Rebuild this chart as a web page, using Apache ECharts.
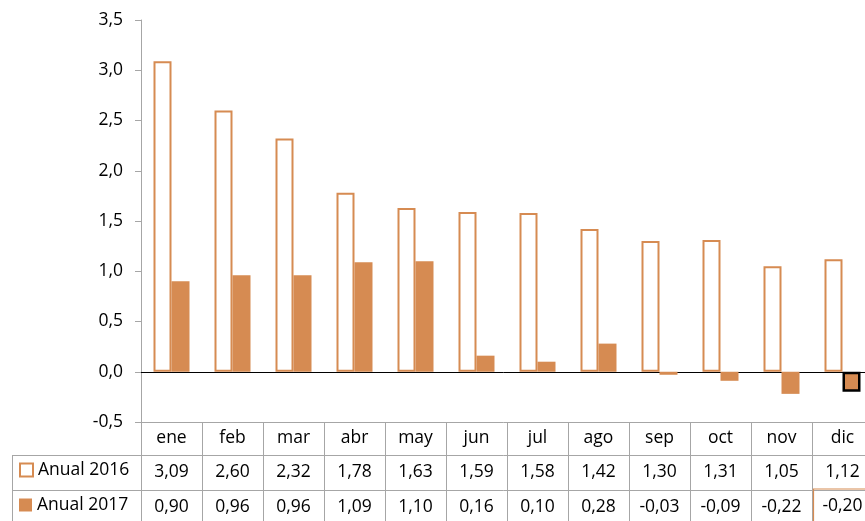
<!DOCTYPE html>
<html>
<head>
<meta charset="utf-8">
<script src="https://cdn.jsdelivr.net/npm/echarts@6/dist/echarts.min.js"></script>
<style>
html,body{margin:0;padding:0;background:#fff;}
#chart{width:865px;height:521px;}
</style>
</head>
<body>
<div id="chart"></div>
<script>
var categories = ['ene','feb','mar','abr','may','jun','jul','ago','sep','oct','nov','dic'];
var anual2016 = [3.09,2.60,2.32,1.78,1.63,1.59,1.58,1.42,1.30,1.31,1.05,1.12];
var anual2017 = [0.90,0.96,0.96,1.09,1.10,0.16,0.10,0.28,-0.03,-0.09,-0.22,-0.20];
var seriesNames = ['Anual 2016','Anual 2017'];
var yTicks = {min:-0.5, max:3.5, interval:0.5};

var ORANGE = '#D68B52';
var GRID_COLOR = '#A6A6A6';
var FONT = 'Open Sans';
var FS = 17.5;

function fmt(v){ return v.toFixed(2).replace('.', ','); }

var chart = echarts.init(document.getElementById('chart'), null, {renderer:'canvas'});

function tableAxis(offset, labels, tickLen, rowH){
  return {
    type:'category', data: labels, position:'bottom', offset: offset,
    boundaryGap:true,
    axisLine:{show:true, onZero:false, lineStyle:{color:GRID_COLOR, width:1}},
    axisTick:{show:true, interval:0, length:tickLen, lineStyle:{color:GRID_COLOR, width:1}},
    axisLabel:{show:true, interval:0, margin:0, color:'#000', fontFamily:FONT, fontSize:FS,
      formatter:function(v, i){ return '{c|' + v + '}'; },
      rich:{
        c:{height:rowH, lineHeight:rowH, fontFamily:FONT, fontSize:FS, color:'#000', align:'center'}
      }
    },
    splitLine:{show:false}
  };
}

var lab2016 = anual2016.map(fmt);
var lab2017 = anual2017.map(fmt);

var ax3 = tableAxis(68, lab2017, 35, 35);
ax3.axisLabel.formatter = function(v, i){ return i === 11 ? '{hl|' + v + '}' : '{c|' + v + '}'; };
ax3.axisLabel.rich.hl = {borderColor:ORANGE, borderWidth:1.2, width:58, height:33, lineHeight:33,
  align:'center', fontFamily:FONT, fontSize:FS, color:'#000', padding:[1,0,1,0]};

function legendFor(idx, top, itemStyle){
  return {
    orient:'horizontal', left:19, top:top, itemWidth:13, itemHeight:13, padding:0,
    textStyle:{fontFamily:FONT, fontSize:FS, color:'#000'},
    data:[{name:seriesNames[idx], icon:'rect', itemStyle:itemStyle}]
  };
}

var option = {
  animation:false,
  backgroundColor:'#fff',
  grid:{left:141, right:-8, top:20, bottom:99, containLabel:false, outerBoundsMode:'none'},
  legend:[
    legendFor(0, 461, {color:'#fff', borderColor:ORANGE, borderWidth:2}),
    legendFor(1, 496, {color:ORANGE, borderWidth:0})
  ],
  xAxis:[
    {
      type:'category', data:categories, boundaryGap:true,
      axisLine:{show:true, onZero:true, lineStyle:{color:'#000', width:1}},
      axisTick:{show:false}, axisLabel:{show:false}, splitLine:{show:false}
    },
    tableAxis(0, categories, 33, 33),
    tableAxis(33, lab2016, 35, 35),
    ax3
  ],
  yAxis:{
    type:'value', min:yTicks.min, max:yTicks.max, interval:yTicks.interval,
    axisLine:{show:true, lineStyle:{color:GRID_COLOR, width:1}},
    axisTick:{show:true, length:6, lineStyle:{color:GRID_COLOR}},
    splitLine:{show:false},
    axisLabel:{color:'#000', fontFamily:FONT, fontSize:FS, margin:18,
      formatter:function(v){ return v.toFixed(1).replace('.', ','); }}
  },
  series:[
    {
      name:seriesNames[0], type:'bar', xAxisIndex:0, data:anual2016,
      barWidth:18, barGap:'0%',
      itemStyle:{color:'#fff', borderColor:ORANGE, borderWidth:2}
    },
    {
      name:seriesNames[1], type:'bar', xAxisIndex:0,
      data:anual2017.map(function(v, i){
        return i === 11 ? {value:v, itemStyle:{color:ORANGE, borderColor:'#000', borderWidth:2.5}} : v;
      }),
      barWidth:18, barGap:'0%',
      itemStyle:{color:ORANGE}
    }
  ],
  graphic:[
    {type:'line', shape:{x1:12, y1:455.5, x2:141, y2:455.5}, style:{stroke:GRID_COLOR, lineWidth:1}},
    {type:'line', shape:{x1:12, y1:490.5, x2:141, y2:490.5}, style:{stroke:GRID_COLOR, lineWidth:1}},
    {type:'line', shape:{x1:12.5, y1:455, x2:12.5, y2:521}, style:{stroke:GRID_COLOR, lineWidth:1}}
  ]
};
chart.setOption(option);
</script>
</body>
</html>
